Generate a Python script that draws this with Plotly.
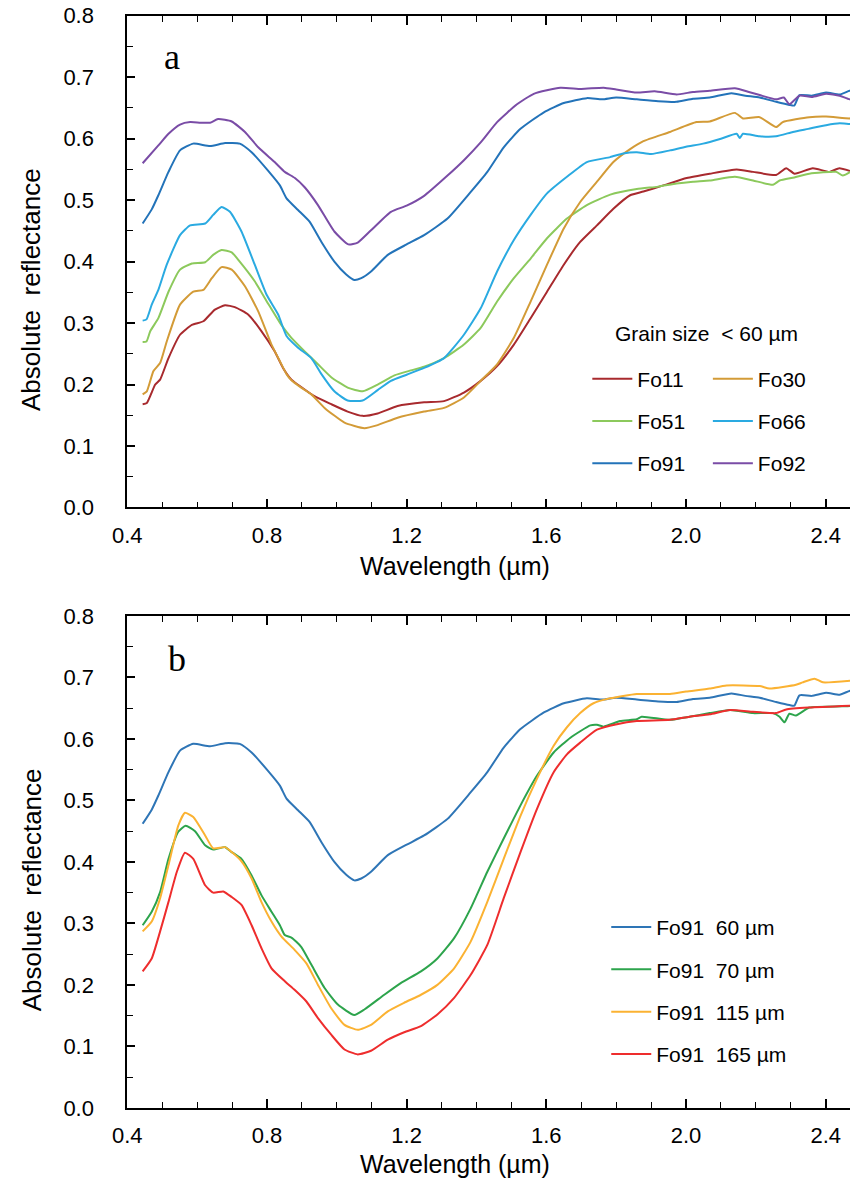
import plotly.graph_objects as go

# ---------------- data (panel a: grain size < 60 um) ----------------
fo11_x = [0.444,0.456,0.480,0.494,0.518,0.551,0.585,0.618,0.651,0.680,0.708,0.746,0.784,0.822,0.846,0.870,0.898,0.936,0.984,1.031,1.074,1.117,1.174,1.250,1.307,1.364,1.412,1.459,1.507,1.555,1.602,1.650,1.697,1.745,1.792,1.840,1.878,1.935,2.002,2.068,2.145,2.192,2.258,2.287,2.311,2.363,2.411,2.439,2.477]
fo11_y = [0.168,0.170,0.200,0.208,0.243,0.281,0.297,0.303,0.322,0.329,0.326,0.314,0.287,0.254,0.227,0.208,0.196,0.181,0.168,0.156,0.149,0.153,0.165,0.171,0.173,0.187,0.206,0.230,0.265,0.308,0.351,0.395,0.432,0.459,0.486,0.508,0.514,0.524,0.536,0.543,0.550,0.546,0.541,0.552,0.543,0.552,0.546,0.552,0.546]

fo30_x = [0.444,0.456,0.475,0.494,0.513,0.551,0.589,0.618,0.642,0.670,0.699,0.737,0.775,0.813,0.837,0.856,0.870,0.898,0.927,0.965,1.022,1.079,1.117,1.174,1.250,1.307,1.364,1.412,1.459,1.507,1.555,1.602,1.650,1.697,1.745,1.792,1.840,1.878,1.954,2.030,2.068,2.140,2.163,2.211,2.258,2.277,2.353,2.401,2.468,2.480]
fo30_y = [0.184,0.189,0.222,0.235,0.270,0.330,0.351,0.354,0.373,0.391,0.387,0.360,0.319,0.265,0.238,0.217,0.207,0.195,0.184,0.162,0.138,0.129,0.134,0.146,0.156,0.162,0.179,0.206,0.233,0.276,0.335,0.395,0.454,0.497,0.530,0.562,0.583,0.596,0.611,0.627,0.628,0.642,0.633,0.635,0.619,0.627,0.635,0.636,0.633,0.634]

fo51_x = [0.444,0.455,0.466,0.489,0.518,0.551,0.585,0.623,0.646,0.670,0.699,0.722,0.765,0.803,0.841,0.870,0.908,0.946,0.984,1.031,1.074,1.117,1.165,1.212,1.250,1.307,1.364,1.412,1.459,1.507,1.555,1.602,1.659,1.716,1.783,1.859,1.920,1.973,2.020,2.068,2.140,2.192,2.249,2.268,2.310,2.353,2.430,2.449,2.477]
fo51_y = [0.269,0.270,0.287,0.308,0.351,0.387,0.397,0.399,0.411,0.419,0.415,0.400,0.368,0.332,0.297,0.276,0.254,0.233,0.212,0.195,0.189,0.200,0.215,0.223,0.229,0.243,0.265,0.292,0.335,0.373,0.405,0.438,0.470,0.492,0.509,0.518,0.522,0.527,0.530,0.532,0.538,0.532,0.525,0.532,0.537,0.543,0.546,0.540,0.548]

fo66_x = [0.444,0.455,0.470,0.489,0.513,0.551,0.580,0.623,0.646,0.670,0.694,0.727,0.765,0.799,0.832,0.856,0.889,0.927,0.956,0.993,1.031,1.074,1.117,1.155,1.200,1.250,1.307,1.364,1.412,1.459,1.507,1.555,1.602,1.659,1.716,1.783,1.820,1.859,1.900,1.954,2.000,2.049,2.100,2.145,2.154,2.163,2.210,2.258,2.306,2.350,2.401,2.440,2.468,2.480]
fo66_y = [0.304,0.306,0.330,0.354,0.395,0.443,0.459,0.462,0.476,0.489,0.481,0.449,0.395,0.346,0.314,0.279,0.260,0.243,0.217,0.189,0.174,0.174,0.191,0.206,0.216,0.227,0.243,0.281,0.324,0.384,0.435,0.476,0.511,0.538,0.562,0.570,0.576,0.578,0.575,0.581,0.587,0.592,0.600,0.608,0.601,0.608,0.604,0.604,0.611,0.616,0.622,0.625,0.624,0.624]

fo91_x = [0.444,0.470,0.489,0.518,0.551,0.589,0.637,0.680,0.722,0.756,0.803,0.837,0.856,0.889,0.922,0.956,0.993,1.027,1.050,1.070,1.098,1.146,1.200,1.250,1.317,1.383,1.431,1.478,1.526,1.593,1.650,1.716,1.760,1.800,1.859,1.920,1.973,2.020,2.068,2.130,2.170,2.211,2.258,2.296,2.310,2.325,2.360,2.401,2.440,2.468,2.480]
fo91_y = [0.462,0.485,0.508,0.546,0.581,0.592,0.588,0.593,0.592,0.578,0.548,0.524,0.503,0.484,0.465,0.432,0.400,0.379,0.370,0.373,0.384,0.411,0.428,0.443,0.470,0.513,0.546,0.586,0.616,0.643,0.658,0.666,0.664,0.667,0.664,0.661,0.660,0.665,0.667,0.674,0.670,0.667,0.660,0.655,0.654,0.671,0.670,0.675,0.672,0.678,0.679]

fo92_x = [0.444,0.489,0.518,0.551,0.580,0.610,0.637,0.660,0.699,0.737,0.775,0.822,0.851,0.880,0.908,0.946,0.993,1.033,1.060,1.098,1.155,1.200,1.250,1.317,1.364,1.412,1.459,1.516,1.564,1.640,1.700,1.764,1.800,1.859,1.910,1.973,2.020,2.068,2.140,2.180,2.211,2.258,2.280,2.296,2.325,2.360,2.401,2.440,2.468,2.480]
fo92_y = [0.560,0.589,0.608,0.623,0.627,0.626,0.626,0.632,0.628,0.611,0.586,0.562,0.546,0.536,0.521,0.492,0.449,0.428,0.431,0.451,0.481,0.491,0.507,0.540,0.565,0.594,0.627,0.656,0.673,0.683,0.681,0.683,0.680,0.675,0.677,0.672,0.676,0.678,0.682,0.676,0.671,0.664,0.667,0.656,0.670,0.668,0.673,0.670,0.664,0.665]

# ---------------- data (panel b: Fo91, several grain sizes) ----------------
g60_x, g60_y = fo91_x, fo91_y

g70_x = [0.444,0.470,0.494,0.518,0.546,0.567,0.594,0.623,0.646,0.680,0.699,0.727,0.756,0.784,0.813,0.837,0.851,0.870,0.898,0.927,0.965,1.003,1.050,1.079,1.136,1.183,1.241,1.288,1.336,1.383,1.431,1.478,1.526,1.573,1.621,1.669,1.726,1.745,1.764,1.811,1.859,1.873,1.954,2.010,2.068,2.126,2.192,2.249,2.268,2.282,2.296,2.315,2.353,2.449,2.477]
g70_y = [0.297,0.319,0.351,0.405,0.449,0.459,0.450,0.427,0.420,0.424,0.416,0.405,0.378,0.346,0.319,0.297,0.281,0.277,0.262,0.233,0.195,0.168,0.151,0.160,0.184,0.203,0.222,0.243,0.276,0.324,0.384,0.438,0.492,0.540,0.578,0.602,0.622,0.623,0.620,0.629,0.632,0.636,0.631,0.636,0.642,0.647,0.642,0.642,0.636,0.627,0.641,0.638,0.651,0.653,0.654]

g115_x = [0.444,0.470,0.494,0.518,0.546,0.565,0.589,0.623,0.646,0.680,0.699,0.727,0.756,0.784,0.813,0.841,0.879,0.913,0.946,0.984,1.022,1.060,1.098,1.146,1.193,1.241,1.288,1.336,1.383,1.431,1.478,1.526,1.573,1.621,1.659,1.697,1.735,1.783,1.859,1.954,2.000,2.068,2.116,2.211,2.239,2.315,2.334,2.368,2.392,2.477]
g115_y = [0.287,0.303,0.341,0.395,0.459,0.480,0.473,0.443,0.422,0.424,0.416,0.401,0.373,0.335,0.303,0.279,0.257,0.235,0.200,0.162,0.135,0.127,0.135,0.157,0.171,0.184,0.200,0.227,0.270,0.335,0.405,0.475,0.535,0.589,0.619,0.642,0.658,0.666,0.673,0.673,0.677,0.682,0.687,0.686,0.682,0.688,0.692,0.698,0.692,0.695]

g165_x = [0.444,0.470,0.494,0.518,0.542,0.565,0.589,0.623,0.646,0.675,0.699,0.727,0.756,0.784,0.813,0.851,0.879,0.913,0.946,0.984,1.022,1.060,1.098,1.146,1.193,1.241,1.288,1.336,1.383,1.431,1.478,1.526,1.573,1.621,1.659,1.697,1.745,1.802,1.859,1.954,2.010,2.068,2.126,2.192,2.258,2.287,2.353,2.477]
g165_y = [0.222,0.243,0.287,0.335,0.384,0.415,0.405,0.362,0.350,0.352,0.343,0.330,0.297,0.260,0.227,0.206,0.192,0.173,0.146,0.119,0.095,0.087,0.093,0.111,0.123,0.133,0.152,0.179,0.216,0.265,0.341,0.416,0.486,0.546,0.575,0.594,0.615,0.624,0.629,0.631,0.636,0.640,0.647,0.644,0.642,0.648,0.651,0.654]

x_ticks = [0.4, 0.8, 1.2, 1.6, 2.0, 2.4]
y_ticks = [0.0, 0.1, 0.2, 0.3, 0.4, 0.5, 0.6, 0.7, 0.8]

FONT = "Liberation Sans, Arial, sans-serif"
SERIF = "Liberation Serif, Times New Roman, serif"

W, H = 850, 1188
# measured mapping of figure pixels to the photographed picture (slight offset and shrink)
SX, OX = 0.986, 9.3
SY, OY = 0.9836, 9.2

def fx(t):   # target picture x -> figure pixel x
    return (t - OX) / SX

def fy(t):   # target picture y -> figure pixel y
    return (t - OY) / SY

def px(t):   # target picture x pixel -> paper fraction
    return fx(t) / W

def py(t):   # target picture y pixel -> paper fraction (from bottom)
    return 1 - fy(t) / H

fig = go.Figure()

top_series = [
    ("Fo11", fo11_x, fo11_y, "#A82A2E", "legend"),
    ("Fo51", fo51_x, fo51_y, "#8CC95C", "legend"),
    ("Fo91", fo91_x, fo91_y, "#2373B9", "legend"),
    ("Fo30", fo30_x, fo30_y, "#D39B37", "legend2"),
    ("Fo66", fo66_x, fo66_y, "#2AAAE1", "legend2"),
    ("Fo92", fo92_x, fo92_y, "#7A4CA6", "legend2"),
]
for name, xs, ys, col, lg in top_series:
    fig.add_trace(go.Scatter(x=xs, y=ys, mode="lines", name=name,
                             line=dict(color=col, width=2, shape="spline", smoothing=0.5),
                             xaxis="x", yaxis="y", legend=lg, legendgroup=name))

bot_series = [
    ("Fo91\u00a0\u00a060 \u00b5m", g60_x, g60_y, "#2E75B6"),
    ("Fo91\u00a0\u00a070 \u00b5m", g70_x, g70_y, "#2DA44C"),
    ("Fo91\u00a0\u00a0115 \u00b5m", g115_x, g115_y, "#FBB232"),
    ("Fo91\u00a0\u00a0165 \u00b5m", g165_x, g165_y, "#EE2D2D"),
]
for name, xs, ys, col in bot_series:
    fig.add_trace(go.Scatter(x=xs, y=ys, mode="lines", name=name,
                             line=dict(color=col, width=2, shape="spline", smoothing=0.5),
                             xaxis="x2", yaxis="y2", legend="legend3", legendgroup=name))

# plot area: 0.4 um at picture px 122, 350.5 picture px per micron, running to the right edge
x_left = px(122)
x_max = 0.4 + (W * (1 - x_left)) * SX / 350.5
x_dom = [x_left, 1.0]
top_dom = [py(507), py(13)]
bot_dom = [py(1110.3), py(616)]

def xaxis_cfg(anchor):
    return dict(domain=x_dom, anchor=anchor, range=[0.4, x_max],
                tickmode="array", tickvals=x_ticks, tickformat=".1f",
                ticks="inside", ticklen=9, tickwidth=1.5, tickcolor="black",
                minor=dict(dtick=0.1, tick0=0.4, ticks="inside", ticklen=6, tickwidth=1.2, tickcolor="black"),
                showline=True, linecolor="black", linewidth=1.8, mirror="ticks",
                showgrid=False, zeroline=False,
                tickfont=dict(family=FONT, size=22, color="black"), ticklabelstandoff=7)

def yaxis_cfg(anchor, dom):
    return dict(domain=dom, anchor=anchor, range=[0, 0.8],
                tickmode="array", tickvals=y_ticks, tickformat=".1f",
                ticks="inside", ticklen=8, tickwidth=1.5, tickcolor="black",
                minor=dict(dtick=0.05, tick0=0, ticks="inside", ticklen=6, tickwidth=1.2, tickcolor="black"),
                showline=True, linecolor="black", linewidth=1.8, mirror=False,
                showgrid=False, zeroline=False,
                tickfont=dict(family=FONT, size=22, color="black"), ticklabelstandoff=27)

leg_common = dict(font=dict(family=FONT, size=21, color="black"), bgcolor="rgba(0,0,0,0)",
                  borderwidth=0, tracegroupgap=12, xanchor="left", yanchor="top", itemwidth=40)

def title_ann(text, x, y, angle=0, size=25):
    return dict(text=text, x=px(x), y=py(y), xref="paper", yref="paper", showarrow=False,
                textangle=angle, font=dict(family=FONT, size=size, color="black"),
                xanchor="center", yanchor="middle")

fig.update_layout(
    width=W, height=H, margin=dict(l=0, r=0, t=0, b=0),
    paper_bgcolor="white", plot_bgcolor="white",
    font=dict(family=FONT, color="black"),
    xaxis=xaxis_cfg("y"), yaxis=yaxis_cfg("x", top_dom),
    xaxis2=xaxis_cfg("y2"), yaxis2=yaxis_cfg("x2", bot_dom),
    showlegend=True,
    legend=dict(x=(fx(636) - 53) / W, y=1 - (fy(377) - 20) / H, **leg_common),
    legend2=dict(x=(fx(757) - 53) / W, y=1 - (fy(377) - 20) / H, **leg_common),
    legend3=dict(x=(fx(655) - 53) / W, y=1 - (fy(928) - 20) / H, **leg_common),
    annotations=[
        title_ann("Wavelength (\u00b5m)", 451, 566),
        title_ann("Wavelength (\u00b5m)", 451, 1167),
        title_ann("Absolute\u00a0\u00a0reflectance", 26, 288, angle=-90, size=26),
        title_ann("Absolute\u00a0\u00a0reflectance", 26, 891, angle=-90, size=26),
        dict(text="Grain size\u00a0 &lt; 60 \u00b5m", x=px(703), y=py(332), xref="paper", yref="paper",
             showarrow=False, font=dict(family=FONT, size=21, color="black"), xanchor="center", yanchor="middle"),
        dict(text="a", x=px(167), y=py(54), xref="paper", yref="paper", showarrow=False,
             font=dict(family=SERIF, size=36, color="black"), xanchor="center", yanchor="middle"),
        dict(text="b", x=px(172), y=py(659), xref="paper", yref="paper", showarrow=False,
             font=dict(family=SERIF, size=36, color="black"), xanchor="center", yanchor="middle"),
    ],
)

fig.write_html("out.html")
